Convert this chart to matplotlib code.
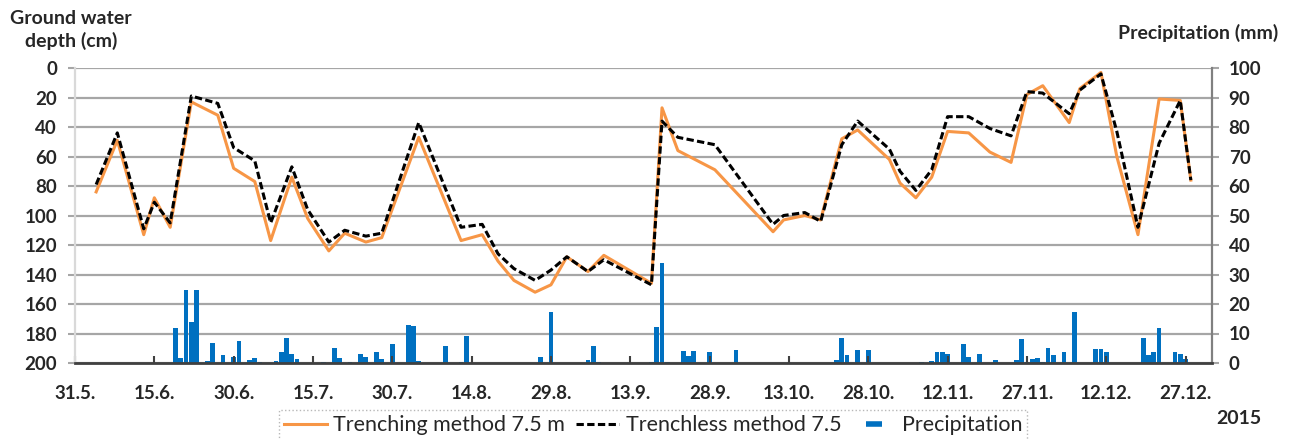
import matplotlib
matplotlib.use("Agg")
import matplotlib.pyplot as plt
from matplotlib.lines import Line2D

plt.rcParams['font.family'] = ['Lato', 'DejaVu Sans']

# days counted from 31.5.2015
meas_day = [4, 8, 13, 15, 18, 22, 27, 30, 34, 37, 41, 44, 48, 51, 55, 58, 65, 73,
            77, 80, 83, 87, 90, 93, 97, 100, 109, 111, 114, 121, 132, 134, 138, 141,
            145, 148, 154, 156, 159, 162, 165, 169, 173, 177, 180, 183, 188, 190,
            194, 197, 201, 205, 209, 211]
trenching = [84, 49, 113, 88, 108, 23, 32, 68, 77, 117, 74, 102, 124, 112, 118, 115, 47, 117,
             113, 131, 144, 152, 147, 128, 138, 127, 146, 27, 56, 69, 111, 103, 100, 103,
             48, 42, 62, 78, 88, 74, 43, 44, 57, 64, 18, 12, 37, 14,
             3, 60, 113, 21, 22, 76]
trenchless = [79, 44, 109, 91, 105, 19, 24, 54, 63, 105, 67, 96, 118, 110, 114, 112, 37, 108,
              106, 126, 136, 144, 137, 128, 138, 130, 147, 36, 47, 52, 106, 100, 98, 104,
              52, 36, 55, 70, 83, 69, 33, 33, 41, 46, 16, 17, 31, 15,
              4, 43, 108, 51, 22, 76]

rain_day = [19, 20, 21, 22, 23, 25, 26, 28, 30, 31, 33, 34, 35, 38, 39, 40, 41, 42,
            47, 49, 50, 52, 54, 55, 57, 58, 60, 63, 64, 65, 70, 73, 74, 88, 90, 97,
            98, 99, 109, 110, 111, 112, 115, 116, 117, 120, 125, 144, 145, 146, 148, 150,
            160, 162, 163, 164, 165, 168, 169, 171, 174, 178, 179, 180, 181, 182, 183, 184,
            185, 187, 189, 193, 194, 195, 202, 203, 204, 205, 208, 209, 210]
rain_mm = [12, 1.6, 24.7, 13.8, 24.7, 0.7, 6.9, 2.7, 2.1, 7.5, 1.0, 1.6, 0.2, 0.7, 3.8, 8.6, 2.9, 1.4,
           0.2, 5.2, 1.8, 0.2, 2.9, 1.9, 3.8, 1.2, 6.3, 12.9, 12.5, 0.7, 5.9, 0.5, 9.2, 2.1, 17.4, 1.0,
           5.9, 0.2, 0.5, 12.3, 33.8, 0.5, 4.1, 2.5, 4.1, 3.6, 4.4, 1.0, 8.4, 2.7, 4.4, 4.4,
           0.4, 0.7, 3.6, 3.6, 3.1, 6.3, 2.1, 3.2, 1.0, 1.0, 8.1, 0.5, 1.4, 1.8, 0.5, 5.2,
           2.7, 3.6, 17.2, 4.6, 4.6, 3.6, 8.4, 2.7, 3.6, 12.0, 3.8, 3.1, 1.4]

tick_day = list(range(0, 211, 15))
tick_lab = ["31.5.", "15.6.", "30.6.", "15.7.", "30.7.", "14.8.", "29.8.", "13.9.",
            "28.9.", "13.10.", "28.10.", "12.11.", "27.11.", "12.12.", "27.12."]

W, H = 1294, 440
fig = plt.figure(figsize=(W / 100, H / 100), dpi=100)
ax = fig.add_axes([75 / W, 1 - 363 / H, (1212 - 75) / W, (363 - 68) / H])
ax2 = ax.twinx()

# precipitation bars on right axis, behind
ax2.bar(rain_day, rain_mm, width=0.9, color='#0070C0', zorder=2)
ax2.set_ylim(0, 100)
ax2.set_yticks(range(0, 101, 10))
ax2.set_axisbelow(True)
ax2.grid(axis='y', color='#a6a6a6', lw=1.6)
ax2.grid(axis='x', color='#d9d9d9', lw=1.6)
ax2.tick_params(axis='y', direction='out', length=5, width=1.5, color='#a6a6a6', pad=7,
                labelsize=13.5, labelcolor='#262626')
for lab in ax2.get_yticklabels():
    lab.set_fontweight('bold')
for s in ['top', 'left', 'bottom']:
    ax2.spines[s].set_visible(False)
ax2.spines['right'].set_color('#808080')
ax2.spines['right'].set_linewidth(1.6)

# ground water depth lines on left axis, on top
ax.set_zorder(ax2.get_zorder() + 1)
ax.patch.set_visible(False)
ax.plot(meas_day, trenching, color='#F79646', lw=2.2, label='Trenching method 7.5 m')
ax.plot(meas_day, trenchless, color='black', lw=2.2, ls=(0, (2.4, 1.1)),
        label='Trenchless method 7.5')
ax.set_ylim(200, 0)
ax.set_yticks(range(0, 201, 20))
ax.set_xlim(0, 215)
ax.set_xticks(tick_day)
ax.set_xticklabels(tick_lab)
ax.tick_params(axis='x', direction='in', length=5, width=1.5, color='#404040', pad=16,
               labelsize=13.5, labelcolor='#262626')
ax.tick_params(axis='y', direction='out', length=5, width=1.5, color='#a6a6a6', pad=8,
               labelsize=13.5, labelcolor='#262626')
for lab in ax.get_xticklabels() + ax.get_yticklabels():
    lab.set_fontweight('bold')
ax.spines['top'].set_visible(False)
ax.spines['right'].set_visible(False)
ax.spines['left'].set_color('#d9d9d9')
ax.spines['left'].set_linewidth(1.6)
ax.spines['bottom'].set_color('#404040')
ax.spines['bottom'].set_linewidth(2)

fig.text(71 / W, 1 - 30 / H, "Ground water\ndepth (cm)", ha='center', va='center',
         fontsize=14, fontweight='bold', linespacing=1.35, color='#262626')
fig.text(1198 / W, 1 - 33 / H, "Precipitation (mm)", ha='center', va='center',
         fontsize=14, fontweight='bold', color='#262626')
fig.text(1239 / W, 1 - 418 / H, "2015", ha='center', va='center',
         fontsize=14, fontweight='bold', color='#262626')

handles = ax.get_lines() + [Line2D([], [], color='#0070C0', marker='_', ms=11, mew=4, ls='none')]
labels = ['Trenching method 7.5 m', 'Trenchless method 7.5', 'Precipitation']
leg = fig.legend(handles, labels, loc='upper center', bbox_to_anchor=(653 / W, 1 - 410 / H),
                 ncol=3, fontsize=15.5, handlelength=2.0, handletextpad=0.3,
                 columnspacing=0.5, borderpad=0.25, borderaxespad=0,
                 fancybox=False, frameon=True)
leg.get_frame().set_edgecolor('#a6a6a6')
leg.get_frame().set_linestyle(':')
leg.get_frame().set_linewidth(1)
for t in leg.get_texts():
    t.set_color('#262626')

fig.savefig('out.png', dpi=100)
